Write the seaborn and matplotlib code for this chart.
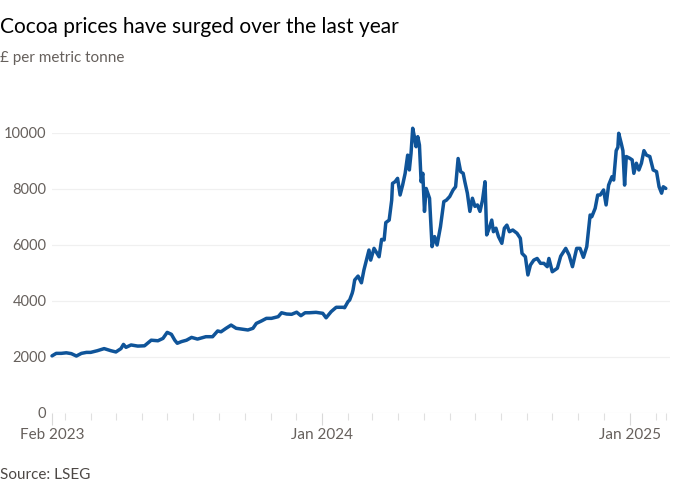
import matplotlib
matplotlib.use('Agg')
import matplotlib.pyplot as plt
import pandas as pd
import seaborn as sns

# cocoa price, £ per metric tonne
dates = [
    '2023-02-14', '2023-02-19', '2023-02-25', '2023-03-03', '2023-03-09', '2023-03-15',
    '2023-03-21', '2023-03-27', '2023-04-01', '2023-04-09', '2023-04-17', '2023-04-25',
    '2023-05-01', '2023-05-07', '2023-05-10', '2023-05-13', '2023-05-19', '2023-05-27',
    '2023-06-04', '2023-06-12', '2023-06-20', '2023-06-26', '2023-07-01', '2023-07-06',
    '2023-07-10', '2023-07-13', '2023-07-18', '2023-07-24', '2023-07-30', '2023-08-06',
    '2023-08-13', '2023-08-16', '2023-08-24', '2023-08-30', '2023-09-03', '2023-09-09',
    '2023-09-15', '2023-09-21', '2023-09-29', '2023-10-05', '2023-10-11', '2023-10-15',
    '2023-10-21', '2023-10-27', '2023-11-02', '2023-11-10', '2023-11-14', '2023-11-20',
    '2023-11-26', '2023-12-02', '2023-12-07', '2023-12-12', '2023-12-17', '2023-12-25',
    '2024-01-02', '2024-01-06', '2024-01-12', '2024-01-18', '2024-01-26', '2024-01-28',
    '2024-02-01', '2024-02-03', '2024-02-06', '2024-02-07', '2024-02-09', '2024-02-13',
    '2024-02-17', '2024-02-20', '2024-02-26', '2024-02-28', '2024-03-03', '2024-03-09',
    '2024-03-12', '2024-03-15', '2024-03-17', '2024-03-21', '2024-03-24', '2024-03-25',
    '2024-03-28', '2024-03-31', '2024-04-03', '2024-04-06', '2024-04-09', '2024-04-12',
    '2024-04-14', '2024-04-16', '2024-04-18', '2024-04-20', '2024-04-22', '2024-04-24',
    '2024-04-26', '2024-04-28', '2024-04-30', '2024-05-02', '2024-05-04', '2024-05-08',
    '2024-05-11', '2024-05-14', '2024-05-17', '2024-05-21', '2024-05-25', '2024-05-28',
    '2024-06-01', '2024-06-05', '2024-06-08', '2024-06-11', '2024-06-14', '2024-06-17',
    '2024-06-19', '2024-06-22', '2024-06-25', '2024-06-28', '2024-07-01', '2024-07-04',
    '2024-07-07', '2024-07-10', '2024-07-13', '2024-07-15', '2024-07-18', '2024-07-21',
    '2024-07-23', '2024-07-26', '2024-07-29', '2024-08-02', '2024-08-05', '2024-08-08',
    '2024-08-11', '2024-08-15', '2024-08-20', '2024-08-24', '2024-08-26', '2024-08-30',
    '2024-09-02', '2024-09-05', '2024-09-09', '2024-09-13', '2024-09-17', '2024-09-21',
    '2024-09-25', '2024-09-27', '2024-10-01', '2024-10-07', '2024-10-11', '2024-10-17',
    '2024-10-21', '2024-10-25', '2024-10-30', '2024-11-03', '2024-11-07', '2024-11-11',
    '2024-11-15', '2024-11-17', '2024-11-21', '2024-11-24', '2024-11-27', '2024-12-01',
    '2024-12-04', '2024-12-07', '2024-12-11', '2024-12-13', '2024-12-16', '2024-12-18',
    '2024-12-19', '2024-12-22', '2024-12-24', '2024-12-26', '2024-12-28', '2025-01-01',
    '2025-01-04', '2025-01-06', '2025-01-09', '2025-01-12', '2025-01-15', '2025-01-18',
    '2025-01-21', '2025-01-25', '2025-01-29', '2025-02-02', '2025-02-05', '2025-02-08',
    '2025-02-10', '2025-02-13',
]
prices = [
    2040, 2130, 2130, 2150, 2120, 2035,
    2130, 2165, 2165, 2225, 2300, 2225,
    2180, 2300, 2450, 2345, 2430, 2390,
    2400, 2600, 2580, 2665, 2880, 2810,
    2600, 2490, 2550, 2600, 2700, 2640,
    2700, 2725, 2725, 2930, 2900, 3025,
    3140, 3025, 2990, 2965, 3025, 3200,
    3285, 3380, 3380, 3440, 3580, 3535,
    3525, 3600, 3475, 3580, 3580, 3595,
    3560, 3400, 3620, 3775, 3775, 3760,
    3975, 4035, 4275, 4390, 4750, 4890,
    4650, 5110, 5820, 5460, 5880, 5580,
    6200, 6180, 6800, 6890, 7600, 8200,
    8260, 8380, 7785, 8140, 8560, 9210,
    8680, 9270, 10170, 9870, 9510, 9870,
    9570, 8260, 8560, 7200, 8020, 7670,
    5940, 6300, 6000, 6650, 7550, 7600,
    7730, 7965, 8080, 9090, 8620, 8560,
    8260, 7850, 7200, 7670, 7380, 7430,
    7200, 7600, 8260, 6360, 6600, 6890,
    6475, 6600, 6300, 6060, 6600, 6710,
    6475, 6535, 6420, 6240, 5700, 5580,
    4930, 5285, 5460, 5520, 5345, 5345,
    5225, 5520, 5045, 5170, 5600, 5880,
    5640, 5225, 5880, 5880, 5560, 5940,
    7070, 7010, 7310, 7785, 7785, 7965,
    7430, 8140, 8440, 8320, 9370, 9490,
    9990, 9630, 9370, 8140, 9160, 9100,
    9040, 8560, 8920, 8680, 8920, 9370,
    9210, 9160, 8680, 8620, 8080, 7850,
    8080, 8020,
]

y_ticks = [0, 2000, 4000, 6000, 8000, 10000]
x_major = ['2023-02-14', '2024-01-01', '2025-01-01']
x_major_labels = ['Feb 2023', 'Jan 2024', 'Jan 2025']

df = pd.DataFrame({'date': pd.to_datetime(dates), 'price': prices})

sns.set_theme(style='white')
plt.rcParams['font.family'] = ['Lato', 'DejaVu Sans']

fig = plt.figure(figsize=(7, 5), dpi=100)
fig.patch.set_facecolor('white')
ax = fig.add_axes([52 / 700, 87 / 500, 618 / 700, 280 / 500])

sns.lineplot(data=df, x='date', y='price', ax=ax, color='#0f5499',
             linewidth=2.5, clip_on=False, zorder=3)

ax.set_ylim(0, 10000)
ax.set_xlim(pd.Timestamp('2023-02-14'), pd.Timestamp('2025-02-18'))
ax.set_xlabel('')
ax.set_ylabel('')
for s in ax.spines.values():
    s.set_visible(False)

ax.set_yticks(y_ticks)
ax.set_yticklabels([str(v) for v in y_ticks])
ax.grid(axis='y', color='#f0f0f0', linewidth=0.9)
ax.grid(axis='x', visible=False)
ax.tick_params(axis='y', length=0, pad=4, labelsize=10.5, labelcolor='#66605c')

month_ticks = list(pd.date_range('2023-03-01', '2025-02-01', freq='MS')) + [df['date'].iloc[-1]]
ax.set_xticks(pd.to_datetime(x_major))
ax.set_xticklabels(x_major_labels)
ax.set_xticks(month_ticks, minor=True)
ax.tick_params(axis='x', which='major', length=8.5, width=0.8, color='#d9d9d9',
               pad=2, labelsize=11, labelcolor='#66605c', bottom=True)
ax.tick_params(axis='x', which='minor', length=5, width=0.8, color='#e0e0e0', bottom=True)

fig.text(0.0, 1 - 33 / 500, 'Cocoa prices have surged over the last year',
         fontsize=15, color='#000000', va='baseline', ha='left')
fig.text(0.0, 1 - 62 / 500, '£ per metric tonne',
         fontsize=11, color='#66605c', va='baseline', ha='left')
fig.text(0.0, 1 - 479 / 500, 'Source: LSEG',
         fontsize=11, color='#4d4845', va='baseline', ha='left')

fig.savefig('out.png', dpi=100, facecolor='white')
